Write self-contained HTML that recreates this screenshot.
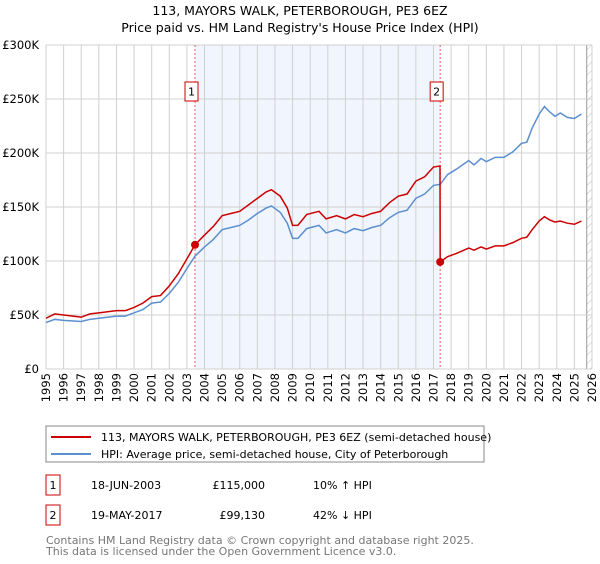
<!DOCTYPE html>
<html><head><meta charset="utf-8"><style>
body{margin:0;background:#fff;font-family:"DejaVu Sans","Liberation Sans",sans-serif;}
svg text{font-family:"DejaVu Sans","Liberation Sans",sans-serif;}
</style></head><body>
<svg id="chart" width="600" height="560" xmlns="http://www.w3.org/2000/svg">
<text x="300" y="15" text-anchor="middle" font-size="12.5" fill="#000">113, MAYORS WALK, PETERBOROUGH, PE3 6EZ</text>
<text x="300" y="32" text-anchor="middle" font-size="12.5" fill="#000">Price paid vs. HM Land Registry's House Price Index (HPI)</text>
<defs><pattern id="hatch" width="6" height="6" patternUnits="userSpaceOnUse" patternTransform="rotate(45)"><line x1="0" y1="0" x2="0" y2="6" stroke="#bbb" stroke-width="1"/></pattern></defs>
<g id="grid"></g>
<g id="marks"></g>
<g id="axes"></g>
<rect x="46" y="426" width="438" height="36" fill="#fff" stroke="#888"/>
<line x1="51" y1="437" x2="91" y2="437" stroke="#cc0000" stroke-width="2"/>
<text x="101" y="441" font-size="11">113, MAYORS WALK, PETERBOROUGH, PE3 6EZ (semi-detached house)</text>
<line x1="51" y1="454" x2="91" y2="454" stroke="#5b8fd0" stroke-width="2"/>
<text x="101" y="458" font-size="11">HPI: Average price, semi-detached house, City of Peterborough</text>
<g font-size="11">
<rect x="46" y="475" width="14" height="20" fill="#fff" stroke="#cc0000"/>
<text x="53" y="489" text-anchor="middle">1</text>
<text x="91" y="489">18-JUN-2003</text>
<text x="265" y="489" text-anchor="end">£115,000</text>
<text x="313" y="489">10% ↑ HPI</text>
</g>
<g font-size="11">
<rect x="46" y="505" width="14" height="20" fill="#fff" stroke="#cc0000"/>
<text x="53" y="519" text-anchor="middle">2</text>
<text x="91" y="519">19-MAY-2017</text>
<text x="265" y="519" text-anchor="end">£99,130</text>
<text x="313" y="519">42% ↓ HPI</text>
</g>
<text x="46" y="544" font-size="11" fill="#777">Contains HM Land Registry data © Crown copyright and database right 2025.</text>
<text x="46" y="555" font-size="11" fill="#777">This data is licensed under the Open Government Licence v3.0.</text>
</svg>
<script>
const hpiYears=[1995,1995.5,1996,1997,1997.5,1998,1999,1999.5,2000,2000.5,2001,2001.5,2002,2002.5,2003,2003.46,2004,2004.5,2005,2005.5,2006,2006.5,2007,2007.5,2007.8,2008.3,2008.7,2009,2009.3,2009.8,2010.5,2010.9,2011.5,2012,2012.5,2013,2013.5,2014,2014.5,2015,2015.5,2016,2016.5,2017,2017.38,2017.8,2018.3,2019,2019.3,2019.7,2020,2020.5,2021,2021.5,2022,2022.3,2022.6,2023,2023.3,2023.6,2023.9,2024.2,2024.6,2025,2025.4];
const hpiValues=[43,46,45,44,46,47,49,49,52,55,61,62,70,80,93,104.5,113,120,129,131,133,138,144,149,151,145,135,121,121,130,133,126,129,126,130,128,131,133,140,145,147,158,162,170,171,180,185,193,189,195,192,196,196,201,209,210,223,236,243,238,234,237,233,232,236];
const priceYears=[1995,1995.5,1996,1997,1997.5,1998,1999,1999.5,2000,2000.5,2001,2001.5,2002,2002.5,2003,2003.46,2004,2004.5,2005,2005.5,2006,2006.5,2007,2007.5,2007.8,2008.3,2008.7,2009,2009.3,2009.8,2010.5,2010.9,2011.5,2012,2012.5,2013,2013.5,2014,2014.5,2015,2015.5,2016,2016.5,2017,2017.37,2017.38,2017.8,2018.3,2019,2019.3,2019.7,2020,2020.5,2021,2021.5,2022,2022.3,2022.6,2023,2023.3,2023.6,2023.9,2024.2,2024.6,2025,2025.4];
const priceValues=[47,51,50,48,51,52,54,54,57,61,67,68,77,88,102,115,124,132,142,144,146,152,158,164,166,160,149,133,133,143,146,139,142,139,143,141,144,146,154,160,162,174,178,187,188,99.13,104,107,112,110,113,111,114,114,117,121,122,129,137,141,138,136,137,135,134,137];
const saleYears=[2003.46,2017.38];
const saleValues=[115,99.13];
const saleLabels=["1","2"];
const yTicks=[0,50,100,150,200,250,300];
const yTickLabels=["£0","£50K","£100K","£150K","£200K","£250K","£300K"];
const xTicks=[1995,1996,1997,1998,1999,2000,2001,2002,2003,2004,2005,2006,2007,2008,2009,2010,2011,2012,2013,2014,2015,2016,2017,2018,2019,2020,2021,2022,2023,2024,2025,2026];
const X0=46,X1=592,Y0=369,Y1=45;
const xs=y=>X0+(y-1995)/(2026-1995)*(X1-X0);
const ys=v=>Y0-v/300*(Y0-Y1);
const NS="http://www.w3.org/2000/svg";
function mk(tag,attrs,parent){const e=document.createElementNS(NS,tag);for(const k in attrs)e.setAttribute(k,attrs[k]);parent.appendChild(e);return e;}
const grid=document.getElementById('grid'),marks=document.getElementById('marks'),axes=document.getElementById('axes');
const shade=mk('rect',{x:xs(saleYears[0]),y:Y1,width:xs(saleYears[1])-xs(saleYears[0]),height:Y0-Y1,fill:'#eef3fc',opacity:0.8},grid);


const hatch=mk('rect',{x:xs(2025.7),y:Y1,width:X1-xs(2025.7),height:Y0-Y1,fill:'url(#hatch)'},grid);


mk('line',{x1:xs(2025.7),x2:xs(2025.7),y1:Y1,y2:Y0,stroke:'#999'},grid);
xTicks.forEach(t=>{mk('line',{x1:xs(t),x2:xs(t),y1:Y1,y2:Y0,stroke:'#d0d0d0'},grid);
 const tx=mk('text',{transform:`translate(${xs(t)+4},373) rotate(-90)`,'text-anchor':'end','font-size':'11.5'},axes);tx.textContent=t;
 
 });
yTicks.forEach((t,i)=>{mk('line',{x1:X0,x2:X1,y1:ys(t),y2:ys(t),stroke:'#d0d0d0'},grid);
 const tx=mk('text',{x:39,y:ys(t)+4,'text-anchor':'end','font-size':'11.5'},axes);tx.textContent=yTickLabels[i];
 
 });
saleYears.forEach(s=>mk('line',{x1:xs(s),x2:xs(s),y1:Y1,y2:Y0,stroke:'#e06060','stroke-dasharray':'2,2'},grid));
const hp=mk('polyline',{points:hpiYears.map((y,i)=>xs(y)+','+ys(hpiValues[i])).join(' '),fill:'none',stroke:'#5b8fd0','stroke-width':1.5},marks);


const pp=mk('polyline',{points:priceYears.map((y,i)=>xs(y)+','+ys(priceValues[i])).join(' '),fill:'none',stroke:'#cc0000','stroke-width':1.5},marks);


saleYears.forEach((s,i)=>{const c=mk('circle',{cx:xs(s),cy:ys(saleValues[i]),r:4,fill:'#cc0000'},marks);
 
 
 const g=mk('g',{},marks);
 
 
 mk('rect',{x:xs(s)-10,y:82,width:13,height:19,fill:'#fff',stroke:'#cc0000'},g);
 const t=mk('text',{x:xs(s)-3.5,y:95.5,'text-anchor':'middle','font-size':'11'},g);t.textContent=saleLabels[i];});
</script>
</body></html>
